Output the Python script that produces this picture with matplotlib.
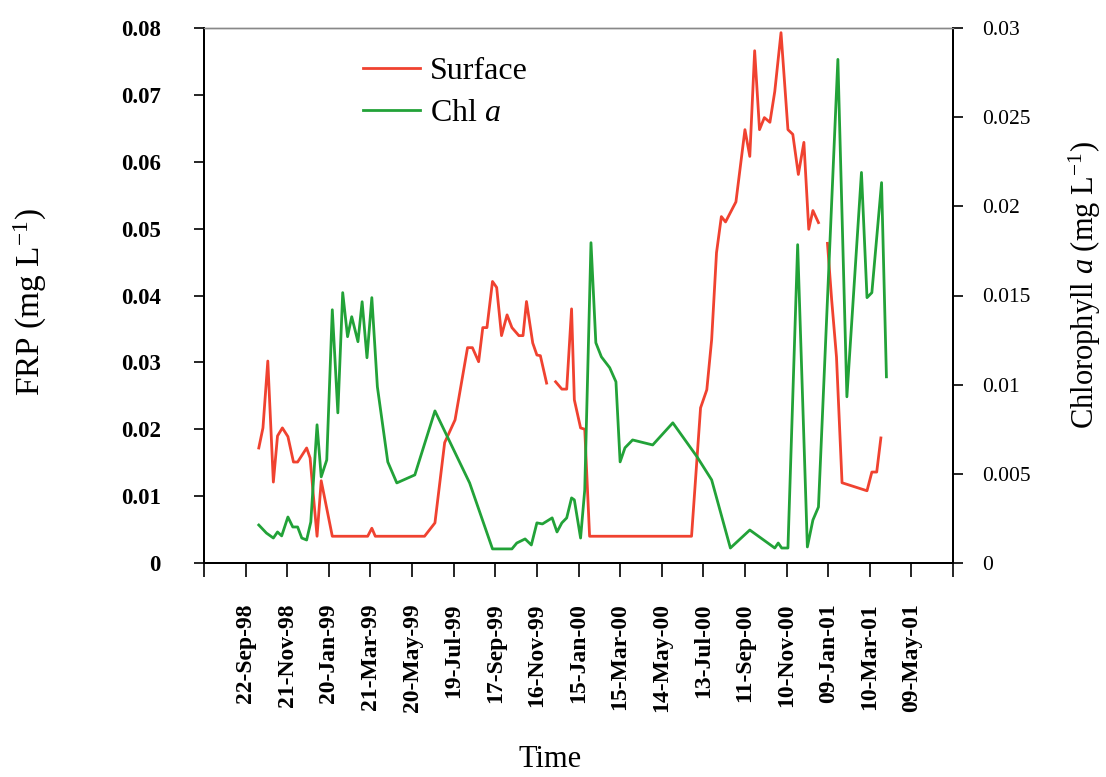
import numpy as np
import pandas as pd
import matplotlib
matplotlib.use('Agg')
import matplotlib.pyplot as plt
import matplotlib.transforms as mtransforms

plt.rcParams['font.family'] = ['Liberation Serif', 'DejaVu Serif']
plt.rcParams['mathtext.fontset'] = 'custom'
plt.rcParams['mathtext.rm'] = 'Liberation Serif'
plt.rcParams['mathtext.it'] = 'Liberation Serif:italic'

nan = np.nan

# FRP, surface samples (mg/L); NaN marks a break in the record
surface_dates = ['1998-10-11', '1998-10-17', '1998-10-24', '1998-11-01', '1998-11-07',
                 '1998-11-14', '1998-11-22', '1998-11-30', '1998-12-06', '1998-12-19',
                 '1998-12-24', '1998-12-28', '1999-01-03', '1999-01-09', '1999-01-25',
                 '1999-02-22', '1999-03-17', '1999-03-23', '1999-03-28', '1999-05-02',
                 '1999-06-07', '1999-06-22', '1999-07-06', '1999-07-21', '1999-08-08',
                 '1999-08-15', '1999-08-24', '1999-08-30', '1999-09-05', '1999-09-13',
                 '1999-09-19', '1999-09-26', '1999-10-04', '1999-10-11', '1999-10-21',
                 '1999-10-27', '1999-11-01', '1999-11-10', '1999-11-16', '1999-11-21',
                 '1999-11-30', '1999-12-06', '1999-12-13', '1999-12-22', '1999-12-29',
                 '2000-01-05', '2000-01-09', '2000-01-18', '2000-01-24', '2000-01-31',
                 '2000-04-12', '2000-06-26', '2000-07-09', '2000-07-18', '2000-07-25',
                 '2000-08-01', '2000-08-08', '2000-08-14', '2000-08-21', '2000-08-29',
                 '2000-09-11', '2000-09-18', '2000-09-25', '2000-10-02', '2000-10-09',
                 '2000-10-17', '2000-10-24', '2000-11-02', '2000-11-12', '2000-11-19',
                 '2000-11-27', '2000-12-05', '2000-12-12', '2000-12-18', '2000-12-26',
                 '2001-01-02', '2001-01-08', '2001-01-14', '2001-01-21', '2001-01-29',
                 '2001-03-06', '2001-03-13', '2001-03-20', '2001-03-26']
surface_frp = [0.0172, 0.0202, 0.0302, 0.0121, 0.0190,
               0.0202, 0.0189, 0.0151, 0.0151, 0.0172,
               0.0157, 0.0109, 0.0040, 0.0123, 0.0040,
               0.0040, 0.0040, 0.0052, 0.0040, 0.0040,
               0.0040, 0.0060, 0.0180, 0.0214, 0.0322,
               0.0322, 0.0301, 0.0352, 0.0352, 0.0421,
               0.0412, 0.0340, 0.0371, 0.0352, 0.0340,
               0.0340, 0.0391, 0.0329, 0.0311, 0.0310,
               0.0269, nan, 0.0271, 0.0260, 0.0260,
               0.0380, 0.0244, 0.0202, 0.0200, 0.0040,
               0.0040, 0.0040, 0.0232, 0.0259, 0.0334,
               0.0464, 0.0518, 0.0510, 0.0524, 0.0540,
               0.0648, 0.0608, 0.0766, 0.0648, 0.0666,
               0.0659, 0.0705, 0.0793, 0.0648, 0.0641,
               0.0581, 0.0629, 0.0499, 0.0527, 0.0509,
               nan, 0.0478, 0.0394, 0.0308, 0.0120,
               0.0108, 0.0136, 0.0136, 0.0187]

# chlorophyll a (mg/L)
chl_dates = ['1998-10-11', '1998-10-22', '1998-11-01', '1998-11-07', '1998-11-13',
             '1998-11-22', '1998-11-29', '1998-12-06', '1998-12-12', '1998-12-19',
             '1998-12-25', '1999-01-03', '1999-01-09', '1999-01-17', '1999-01-25',
             '1999-02-02', '1999-02-09', '1999-02-16', '1999-02-22', '1999-03-03',
             '1999-03-09', '1999-03-16', '1999-03-23', '1999-03-31', '1999-04-15',
             '1999-04-28', '1999-05-24', '1999-06-22', '1999-08-11', '1999-09-13',
             '1999-10-11', '1999-10-18', '1999-10-30', '1999-11-08', '1999-11-16',
             '1999-11-24', '1999-12-08', '1999-12-15', '1999-12-22', '1999-12-29',
             '2000-01-05', '2000-01-09', '2000-01-18', '2000-01-24', '2000-02-02',
             '2000-02-09', '2000-02-17', '2000-02-29', '2000-03-09', '2000-03-15',
             '2000-03-22', '2000-04-02', '2000-05-01', '2000-05-30', '2000-07-04',
             '2000-07-25', '2000-08-21', '2000-09-18', '2000-10-24', '2000-10-29',
             '2000-11-03', '2000-11-12', '2000-11-26', '2000-12-10', '2000-12-18',
             '2000-12-26', '2001-01-23', '2001-02-05', '2001-02-26', '2001-03-06',
             '2001-03-13', '2001-03-27', '2001-04-03']
chl_a = [0.00213, 0.00168, 0.00140, 0.00174, 0.00152,
         0.00258, 0.00202, 0.00202, 0.00140, 0.00129,
         0.00230, 0.00775, 0.00483, 0.00578, 0.01420,
         0.00842, 0.01516, 0.01269, 0.01381, 0.01241,
         0.01465, 0.01151, 0.01488, 0.00988, 0.00567,
         0.00449, 0.00494, 0.00853, 0.00449, 0.00079,
         0.00079, 0.00112, 0.00135, 0.00101, 0.00225,
         0.00219, 0.00253, 0.00174, 0.00225, 0.00253,
         0.00365, 0.00354, 0.00140, 0.00410, 0.01796,
         0.01235, 0.01156, 0.01095, 0.01016, 0.00567,
         0.00646, 0.00690, 0.00662, 0.00786, 0.00595,
         0.00466, 0.00084, 0.00185, 0.00084, 0.00112,
         0.00084, 0.00084, 0.01785, 0.00090, 0.00241,
         0.00314, 0.02824, 0.00932, 0.02190, 0.01488,
         0.01516, 0.02133, 0.01044]

# x axis: 60-day steps, end ticks carry no label
tick_labels = ['', '22-Sep-98', '21-Nov-98', '20-Jan-99', '21-Mar-99', '20-May-99',
               '19-Jul-99', '17-Sep-99', '16-Nov-99', '15-Jan-00', '15-Mar-00',
               '14-May-00', '13-Jul-00', '11-Sep-00', '10-Nov-00', '09-Jan-01',
               '10-Mar-01', '09-May-01', '']

sd = pd.to_datetime(surface_dates)
cd = pd.to_datetime(chl_dates)
x_start = pd.Timestamp('1998-07-24')
ticks = [x_start + pd.Timedelta(days=60 * i) for i in range(len(tick_labels))]

fig = plt.figure(figsize=(11.06, 7.77), dpi=100)
ax = fig.add_axes([204 / 1106, 1 - 563 / 777, 749 / 1106, 535 / 777])
ax2 = ax.twinx()

l1, = ax.plot(sd, surface_frp, color='#f04230', lw=2.0, label='Surface')
l2, = ax2.plot(cd, chl_a, color='#22a238', lw=2.0, label='Chl $a$')

ax.set_xlim(ticks[0], ticks[-1])
ax.set_ylim(0, 0.08)
ax2.set_ylim(0, 0.03)
ax.set_yticks(np.arange(0, 0.081, 0.01))
ax.set_yticklabels(['0', '0.01', '0.02', '0.03', '0.04', '0.05', '0.06', '0.07', '0.08'])
ax2.set_yticks(np.arange(0, 0.0301, 0.005))
ax2.set_yticklabels(['0', '0.005', '0.01', '0.015', '0.02', '0.025', '0.03'])

ax.set_xticks(ticks)
ax.set_xticklabels(tick_labels, rotation=90, fontsize=17, fontweight='bold')
shift = mtransforms.ScaledTranslation(-9 / 100, 0, fig.dpi_scale_trans)
for t in ax.get_xticklabels():
    t.set_transform(t.get_transform() + shift)

ax.tick_params(axis='x', direction='out', length=10, width=1.2, pad=19)
ax.tick_params(axis='y', direction='out', length=7, width=1.2, pad=24, labelsize=16.5)
for t in ax.get_yticklabels():
    t.set_fontweight('bold')
ax2.tick_params(axis='y', direction='out', length=7, width=1.2, pad=14, labelsize=15.5)

for a in (ax, ax2):
    a.spines['top'].set_color('#888888')
    a.spines['top'].set_linewidth(1.0)
    for s in ('left', 'right', 'bottom'):
        a.spines[s].set_linewidth(1.4)

fig.text(30 / 1106, 1 - 302 / 777, r'FRP (mg $\mathrm{L}^{-1}$)', rotation=90,
         ha='center', va='center', fontsize=24)
fig.text(1085 / 1106, 1 - 285 / 777, r'Chlorophyll $a$ (mg $\mathrm{L}^{-1}$)', rotation=90,
         ha='center', va='center', fontsize=22)
ax.set_xlabel('Time', fontsize=22)
ax.xaxis.set_label_coords(0.462, -0.368)
ax.xaxis.label.set_verticalalignment('center')

ax2.legend([l1, l2], ['Surface', 'Chl $a$'], loc='upper left',
           bbox_to_anchor=(0.212, 0.946), frameon=False, fontsize=23,
           handlelength=1.8, handletextpad=0.3, labelspacing=0.4,
           borderpad=0, borderaxespad=0)

fig.savefig('out.png', dpi=100)
